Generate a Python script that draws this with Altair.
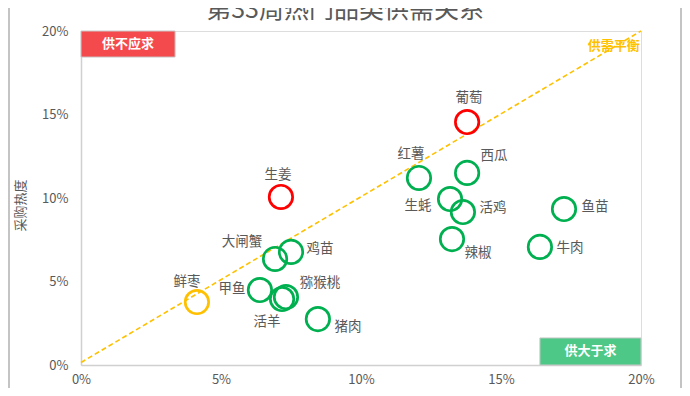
import altair as alt
import pandas as pd

# ---- data ----
names = ["生姜", "葡萄", "鲜枣", "红薯", "西瓜", "生蚝", "活鸡", "辣椒",
         "鱼苗", "牛肉", "大闸蟹", "鸡苗", "甲鱼", "活羊", "猕猴桃", "猪肉"]
supply = [7.14, 13.79, 4.14, 12.07, 13.79, 13.18, 13.64, 13.25,
          17.25, 16.39, 6.93, 7.50, 6.39, 7.18, 7.32, 8.46]          # %
demand = [10.06, 14.55, 3.77, 11.20, 11.50, 9.94, 9.16, 7.54,
          9.34, 7.07, 6.35, 6.77, 4.49, 3.95, 4.07, 2.75]             # %
status = ["供不应求", "供不应求", "供需平衡"] + ["供大于求"] * 13

balance_x = [0.0, 20.0]
balance_y = [0.15, 20.0]

title_text = "第33周热门品类供需关系"
y_title = "采购热度"
tick_values = [0, 5, 10, 15, 20]

# ---- layout helpers (label placement in pixels, not data) ----
label_offsets = {
    "生姜": (-3, -22), "葡萄": (2, -24), "鲜枣": (-10, -20), "红薯": (-8, -24),
    "西瓜": (27, -17), "生蚝": (-32, 7), "活鸡": (30, -4), "辣椒": (26, 14),
    "鱼苗": (31, -2), "牛肉": (30, 1), "大闸蟹": (-33, -17), "鸡苗": (29, -3),
    "甲鱼": (-28, -1), "活羊": (-15, 23), "猕猴桃": (34, -14), "猪肉": (30, 8),
}

FONT = "Noto Sans CJK SC"
GRAY = "#595959"

df = pd.DataFrame({
    "name": names,
    "x": [v / 100 for v in supply],
    "y": [v / 100 for v in demand],
    "status": status,
})

line_df = pd.DataFrame({"x": [v / 100 for v in balance_x],
                        "y": [v / 100 for v in balance_y]})

xs = alt.Scale(domain=[0, 0.2], nice=False, zero=False)
ys = alt.Scale(domain=[0, 0.2], nice=False, zero=False)

axis_common = dict(values=[v / 100 for v in tick_values], format=".0%", grid=False,
                   ticks=False, domainColor="#D0D0D0", domainWidth=1.5,
                   labelColor=GRAY, labelFont=FONT, labelFontSize=13,
                   labelFlush=False, labelOverlap=False)

x_enc = alt.X("x:Q", scale=xs, title=None,
              axis=alt.Axis(labelPadding=8, **axis_common))
y_enc = alt.Y("y:Q", scale=ys, title=y_title,
              axis=alt.Axis(labelPadding=13, titleFont=FONT, titleFontSize=13,
                            titleColor=GRAY, titleFontWeight="normal",
                            titleAngle=-90, titleX=-61, titleY=174,
                            titleAlign="center", titleBaseline="middle",
                            **axis_common))

color_scale = alt.Scale(domain=["供不应求", "供需平衡", "供大于求"],
                        range=["#FF0000", "#FFC000", "#00B050"])

line = alt.Chart(line_df).mark_line(color="#FFC000", strokeWidth=1.6,
                                    strokeDash=[5, 3]).encode(x=x_enc, y=y_enc)

points = alt.Chart(df).mark_point(shape="circle", filled=False, size=550,
                                  strokeWidth=2.7, opacity=1).encode(
    x=alt.X("x:Q", scale=xs),
    y=alt.Y("y:Q", scale=ys),
    color=alt.Color("status:N", scale=color_scale, legend=None),
)

label_layers = []
for n in names:
    dx, dy = label_offsets[n]
    label_layers.append(
        alt.Chart(df).transform_filter(alt.datum.name == n)
        .mark_text(font=FONT, fontSize=13.5, color=GRAY, dx=dx, dy=dy)
        .encode(x=alt.X("x:Q", scale=xs), y=alt.Y("y:Q", scale=ys), text="name:N")
    )

# corner annotation boxes (in data units)
box_df = pd.DataFrame({
    "x": [0.0, 0.1639], "x2": [0.0336, 0.2],
    "y": [0.1844, 0.0], "y2": [0.2, 0.0162],
    "label": ["供不应求", "供大于求"],
    "fill": ["#F54A4D", "#4DC886"],
})
boxes = alt.Chart(box_df).mark_rect(stroke="#C8C8C8", strokeWidth=1).encode(
    x=alt.X("x:Q", scale=xs), x2="x2:Q",
    y=alt.Y("y:Q", scale=ys), y2="y2:Q",
    fill=alt.Fill("fill:N", scale=None),
)
box_df["cx"] = (box_df["x"] + box_df["x2"]) / 2
box_df["cy"] = (box_df["y"] + box_df["y2"]) / 2
box_text = alt.Chart(box_df).mark_text(font=FONT, fontSize=13, fontWeight="bold",
                                       color="white").encode(
    x=alt.X("cx:Q", scale=xs), y=alt.Y("cy:Q", scale=ys), text="label:N")

bal_df = pd.DataFrame({"x": [0.1996], "y": [0.191], "label": ["供需平衡"]})
bal_text = alt.Chart(bal_df).mark_text(font=FONT, fontSize=13, fontWeight="bold",
                                       color="#FFC000", align="right").encode(
    x=alt.X("x:Q", scale=xs), y=alt.Y("y:Q", scale=ys), text="label:N")

# chart title (partially cut at the top edge, as in the reference)
title = alt.Chart(pd.DataFrame({"t": [title_text]})).mark_text(
    font=FONT, fontSize=25, color=GRAY, baseline="alphabetic", align="center"
).encode(x=alt.value(264), y=alt.value(-13), text="t:N")

# outer chart-area frame lines
frame = alt.Chart(pd.DataFrame({"v": [0]})).mark_rule(color="#B0B0B0", strokeWidth=1.5).encode(
    x=alt.value(-72), y=alt.value(-23), y2=alt.value(357))
frame_r = alt.Chart(pd.DataFrame({"v": [0]})).mark_rule(color="#B0B0B0", strokeWidth=1.5).encode(
    x=alt.value(600), y=alt.value(-23), y2=alt.value(357))

chart = alt.layer(frame, frame_r, title, line, boxes, box_text, bal_text, points,
                  *label_layers).properties(
    width=560, height=334,
    autosize=alt.AutoSizeParams(type="none"),
    padding={"left": 73, "top": 23, "right": 41, "bottom": 23},
).configure_view(stroke="#A6A6A6", strokeWidth=1.5).configure(background="white")

chart.save("out.html", embed_options={"renderer": "svg", "actions": False})
